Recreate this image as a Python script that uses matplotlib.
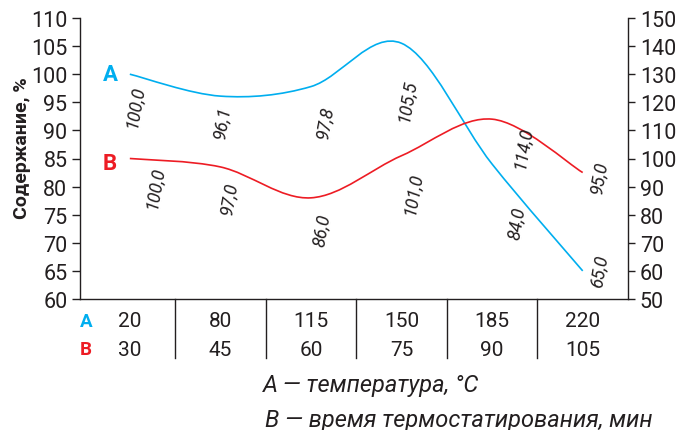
import numpy as np
import matplotlib
matplotlib.use("Agg")
import matplotlib.pyplot as plt
from matplotlib.path import Path
from matplotlib.patches import PathPatch
from matplotlib.transforms import blended_transform_factory

plt.rcParams["font.family"] = ["Roboto", "DejaVu Sans"]

# data
temperature = ["20", "80", "115", "150", "185", "220"]   # row A, °C
hold_time = ["30", "45", "60", "75", "90", "105"]         # row B, min
content_a = [100.0, 96.1, 97.8, 105.5, 84.0, 65.0]       # left axis
content_b = [100.0, 97.0, 86.0, 101.0, 114.0, 95.0]      # right axis

# label offsets from each point, in points (dx, dy)
offsets_a = [(4, -23), (1, -18), (10, -25), (4, -41), (18, -42), (12, 0)]
offsets_b = [(18, -20), (6, -22), (8, -23), (8, -27), (22, -20), (12, -3)]

CYAN = "#00aeef"
RED = "#ed1c24"
INK = "#231f20"


def smooth_path(xs, ys):
    """Catmull-Rom spline through the points, as cubic Bezier segments."""
    pts = np.column_stack([xs, ys]).astype(float)
    ext = np.vstack([pts[0], pts, pts[-1]])
    verts = [pts[0]]
    codes = [Path.MOVETO]
    for i in range(len(pts) - 1):
        p0, p1, p2, p3 = ext[i], ext[i + 1], ext[i + 2], ext[i + 3]
        verts += [p1 + (p2 - p0) / 6, p2 - (p3 - p1) / 6, p2]
        codes += [Path.CURVE4] * 3
    return Path(verts, codes)


def fmt(v):
    return f"{v:.1f}".replace(".", ",")


fig = plt.figure(figsize=(6.81, 4.31), dpi=100)
ax = fig.add_axes([80 / 681, 1 - 300 / 431, 548 / 681, 281 / 431])
ax2 = ax.twinx()

x = np.arange(len(temperature))
ax.set_xlim(-0.55, 5.5)
ax.set_ylim(60, 110)
ax2.set_ylim(50, 150)

ax.add_patch(PathPatch(smooth_path(x, content_a), fill=False, edgecolor=CYAN, lw=1.2))
ax2.add_patch(PathPatch(smooth_path(x, content_b), fill=False, edgecolor=RED, lw=1.2))

for xi, v, off in zip(x, content_a, offsets_a):
    ax.annotate(fmt(v), (xi, v), xytext=off, textcoords="offset points",
                rotation=80, style="italic", fontsize=13, color=INK,
                ha="center", va="center", rotation_mode="anchor")
for xi, v, off in zip(x, content_b, offsets_b):
    ax2.annotate(fmt(v), (xi, v), xytext=off, textcoords="offset points",
                 rotation=80, style="italic", fontsize=13, color=INK,
                 ha="center", va="center", rotation_mode="anchor")

ax.text(-0.21, content_a[0], "A", color=CYAN, fontsize=16, fontweight="bold",
        ha="center", va="center")
ax2.text(-0.22, content_b[0] - 1.5, "B", color=RED, fontsize=16, fontweight="bold",
         ha="center", va="center")

# axes styling
for a in (ax, ax2):
    a.spines["top"].set_visible(False)
    for s in a.spines.values():
        s.set_color(INK)
        s.set_linewidth(1.0)
ax.spines["right"].set_visible(False)
ax2.spines["left"].set_visible(False)
ax2.spines["bottom"].set_visible(False)

ax.set_yticks(range(60, 111, 5))
ax2.set_yticks(range(50, 151, 10))
ax.tick_params(axis="y", direction="out", length=6, width=1, color=INK,
               labelsize=15.5, labelcolor=INK, pad=3)
ax2.tick_params(axis="y", direction="out", length=5, width=1, color=INK,
                labelsize=15.5, labelcolor=INK, pad=3.5)
ax.tick_params(axis="x", bottom=False, labelbottom=False)

# table under the plot
tr = blended_transform_factory(ax.transData, ax.transAxes)
for i in range(len(temperature) - 1):
    ax.plot([i + 0.5, i + 0.5], [0, -0.21], transform=tr, clip_on=False,
            color=INK, lw=1.0)
for xi, ta, tb in zip(x, temperature, hold_time):
    ax.text(xi, -0.078, ta, transform=tr, ha="center", va="center",
            fontsize=15, color=INK)
    ax.text(xi, -0.178, tb, transform=tr, ha="center", va="center",
            fontsize=15, color=INK)
ax.text(-0.485, -0.078, "A", transform=tr, ha="center", va="center",
        fontsize=13.5, fontweight="bold", color=CYAN)
ax.text(-0.485, -0.178, "B", transform=tr, ha="center", va="center",
        fontsize=13.5, fontweight="bold", color=RED)

fig.text(22 / 681, 1 - 148 / 431, "Содержание, %", rotation=90,
         fontsize=14, fontweight="bold", color=INK, ha="center", va="center")
fig.text(263 / 681, 1 - 386 / 431, "A — температура, °C", style="italic",
         fontsize=17, color=INK, va="center")
fig.text(265 / 681, 1 - 421 / 431, "B — время термостатирования, мин",
         style="italic", fontsize=17, color=INK, va="center")

fig.savefig("out.png", dpi=100)
